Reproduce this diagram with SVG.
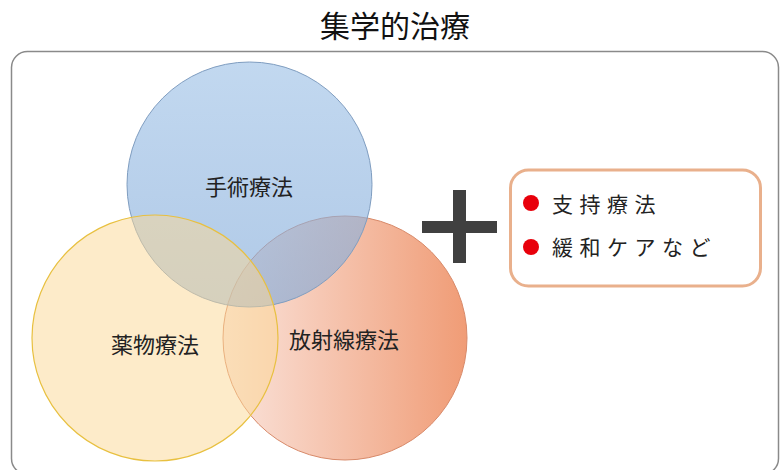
<svg xmlns="http://www.w3.org/2000/svg" width="781" height="470" viewBox="0 0 781 470">
<style>
.lbl{font-family:"Noto Sans CJK JP","Noto Sans CJK SC",sans-serif;font-size:22px;fill:#222;text-anchor:middle}
.item{font-family:"Noto Sans CJK JP","Noto Sans CJK SC",sans-serif;font-size:21px;fill:#222;letter-spacing:6.5px}
.title{font-family:"Noto Sans CJK JP","Noto Sans CJK SC",sans-serif;font-size:30px;fill:#111;text-anchor:middle}
</style>
<defs>
<linearGradient id="gOrange" x1="0" y1="0" x2="1" y2="0">
<stop offset="0" stop-color="#fae4dc"/>
<stop offset="1" stop-color="#f09c76"/>
</linearGradient>
<linearGradient id="gBlue" x1="0" y1="0" x2="0" y2="1">
<stop offset="0" stop-color="#9cc0e6"/>
<stop offset="1" stop-color="#7fa8d8"/>
</linearGradient>
</defs>
<text class="title" x="395" y="37">集学的治療</text>
<rect x="11.5" y="51.5" width="767" height="423" rx="16" fill="#fff" stroke="#8a8a8a" stroke-width="1.5"/>
<g id="radiation">
<circle cx="345" cy="338" r="122" fill="url(#gOrange)" stroke="#d88a6a" stroke-width="1"/>
</g>
<g id="surgery">
<circle cx="249.5" cy="184.5" r="122.5" fill="url(#gBlue)" fill-opacity="0.62" stroke="#7f9dc0" stroke-width="1"/>
</g>
<g id="drug">
<circle cx="155" cy="338" r="123" fill="#fbd794" fill-opacity="0.5" stroke="#e8c040" stroke-width="1.2"/>
</g>
<text class="lbl" x="249" y="195">手術療法</text>
<text class="lbl" x="155" y="353">薬物療法</text>
<text class="lbl" x="344" y="348">放射線療法</text>
<g id="plus">
<rect x="453" y="190" width="13" height="73" fill="#404040"/>
<rect x="422" y="221" width="75" height="12" fill="#404040"/>
</g>
<g id="support">
<rect x="510.5" y="170" width="250" height="116" rx="18" fill="#fff" stroke="#e9b08c" stroke-width="3"/>
<circle cx="531" cy="203" r="8" fill="#e8000b"/>
<circle cx="531" cy="247" r="8" fill="#e8000b"/>
<text class="item" x="552" y="212">支持療法</text>
<text class="item" x="552" y="255">緩和ケアなど</text>
</g>
</svg>
